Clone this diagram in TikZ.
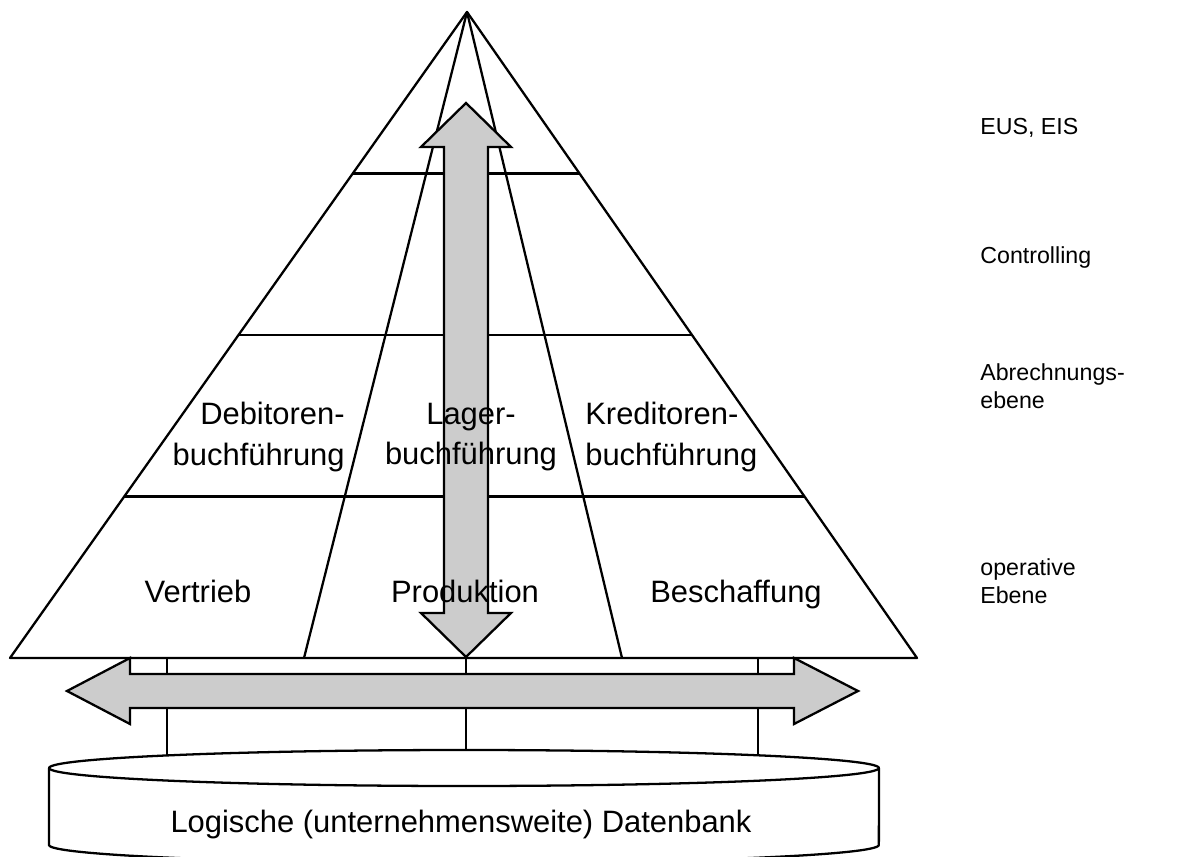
\documentclass[tikz,border=0pt]{standalone}
\usepackage{fontspec}
\setmainfont{Liberation Sans}
\usepackage{tikz}
\usetikzlibrary{calc}

\begin{document}
\begin{tikzpicture}[
  x=0.02cm, y=-0.02cm,
  font=\fontsize{17.6}{22.8}\selectfont,
  every node/.style={inner sep=0pt},
  edge/.style={draw=black, line width=1.3pt, line join=round},
  bigarrow/.style={draw=black, fill=black!20, line width=1.3pt, line join=miter},
  lvl/.style={anchor=west, align=left, font=\fontsize{13.2}{16}\selectfont},
]
\useasboundingbox (0,0) rectangle (1199,857);

% ---------- pyramid ----------
\coordinate (apex) at (467,12);
\coordinate (bl) at (10,658);
\coordinate (br) at (917,658);
\coordinate (il) at (304,658);
\coordinate (ir) at (622,658);
\draw[edge] (apex) -- (bl) -- (br) -- cycle;
\draw[edge] (il) -- (apex) -- (ir);
\foreach \t in {0.25,0.5,0.75}
  \draw[edge] ($(apex)!\t!(bl)$) -- ($(apex)!\t!(br)$);

% ---------- links down to the database ----------
\foreach \n/\x/\d in {l/167/755, m/466/750, r/758/755} {
  \coordinate (up\n) at (\x,658);
  \coordinate (dn\n) at (\x,\d);
  \draw[edge] (up\n) -- (dn\n);
}

% ---------- database ----------
\draw[edge] (464,768) ellipse [x radius=8.3cm, y radius=0.36cm];
\draw[edge] (49,768) -- (49,845)
  arc [start angle=180, end angle=360, x radius=8.3cm, y radius=0.36cm] -- (879,768);
\node[anchor=base] (db) at (461,832) {Logische (unternehmensweite) Datenbank};

% ---------- the two block arrows ----------
\coordinate (vtop) at (466,103);
\coordinate (vbot) at (466,657);
\draw[bigarrow] (vtop) -- ++(45,44) -- ++(-23,0) -- ($(vbot)+(22,-44)$) -- ++(23,0)
  -- (vbot) -- ++(-45,-44) -- ++(23,0) -- ($(vtop)+(-22,44)$) -- ++(-23,0) -- cycle;

\coordinate (hl) at (67,691);
\coordinate (hr) at (858,691);
\draw[bigarrow] (hl) -- ++(63,-33) -- ++(0,16) -- ($(hr)+(-64,-17)$) -- ++(0,-16)
  -- (hr) -- ++(-64,33) -- ++(0,-16) -- ($(hl)+(63,17)$) -- ++(0,16) -- cycle;

% ---------- cells ----------
\node[anchor=east, align=right] (deb) at (345,437) {Debitoren-\\buchführung};
\node[align=center] (lag) at (471,437) {Lager-\\buchführung};
\node[anchor=west, align=left] (kred) at (585,437) {Kreditoren-\\buchführung};
\node[anchor=base] (vert) at (198,602) {Vertrieb};
\node[anchor=base] (prod) at (465,602) {Produktion};
\node[anchor=base] (besch) at (736,602) {Beschaffung};

% ---------- levels ----------
\node[lvl] (eus) at (980,128) {EUS, EIS};
\node[lvl] (contr) at (980,258) {Controlling};
\node[lvl] (abr) at (980,386) {Abrechnungs-\\ebene};
\node[lvl] (oper) at (980,581) {operative\\Ebene};
\end{tikzpicture}
\end{document}
